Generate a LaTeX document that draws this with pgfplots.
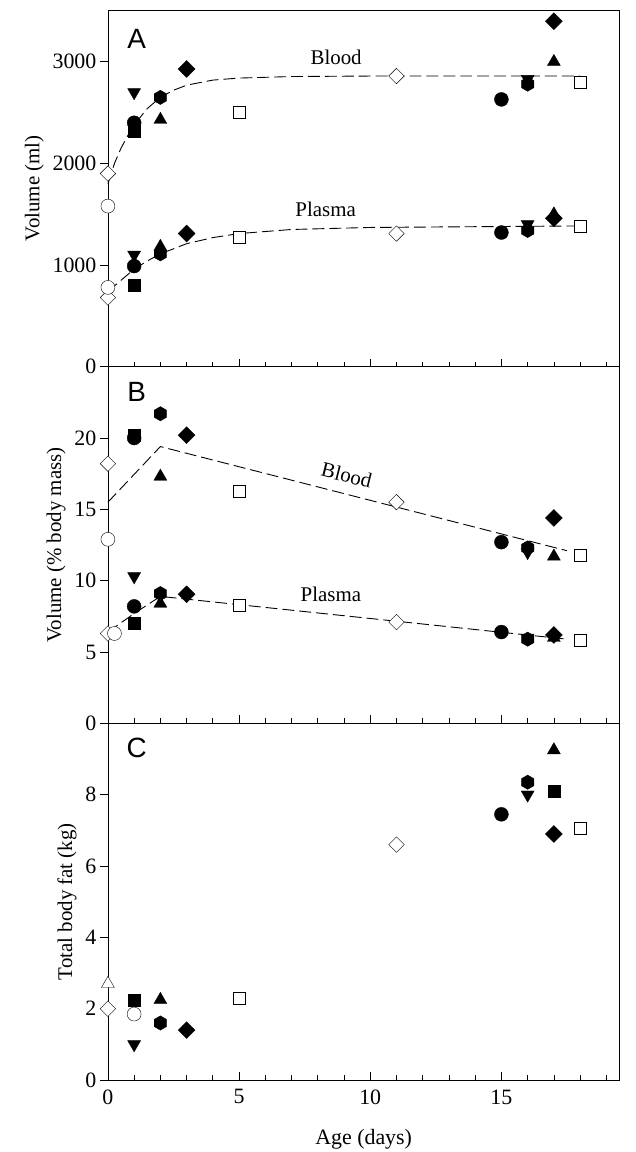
\documentclass[border=0pt]{standalone}
\usepackage{pgfplots}
\pgfplotsset{compat=1.18}
\usepackage{fontspec}
\setmainfont{Liberation Serif}
\newfontfamily\lsans{Liberation Sans}
\pgfdeclareplotmark{hex*}{%
  \pgfpathmoveto{\pgfpointpolar{90}{1.1\pgfplotmarksize}}%
  \pgfpathlineto{\pgfpointpolar{150}{1.1\pgfplotmarksize}}%
  \pgfpathlineto{\pgfpointpolar{210}{1.1\pgfplotmarksize}}%
  \pgfpathlineto{\pgfpointpolar{270}{1.1\pgfplotmarksize}}%
  \pgfpathlineto{\pgfpointpolar{330}{1.1\pgfplotmarksize}}%
  \pgfpathlineto{\pgfpointpolar{30}{1.1\pgfplotmarksize}}%
  \pgfpathclose\pgfusepathqfillstroke}
\tikzset{lab/.style={font=\fontsize{21}{23}\selectfont},
  pan/.style={font=\lsans\fontsize{28}{30}\selectfont}}
\pgfplotsset{
  base/.style={width=512bp,height=357bp,scale only axis,xmin=0,xmax=19.5,
    xtick={0,5,10,15},minor xtick={1,2,3,4,6,7,8,9,11,12,13,14,16,17,18,19},
    xtick pos=bottom,ytick pos=left,xtick align=inside,ytick align=outside,
    major tick length=8bp,minor tick length=5bp,
    tick style={black,line width=0.7pt},axis line style={line width=0.8pt},
    font=\fontsize{22}{24}\selectfont, clip=false,
    /pgf/number format/assume math mode=true,
    ylabel style={font=\fontsize{21}{23}\selectfont,yshift=2bp}},
  fc/.style={only marks,mark=*,mark size=7pt,black,fill=black},
  oc/.style={only marks,mark=*,mark size=7pt,black,fill=white},
  fs/.style={only marks,mark=square*,mark size=6pt,black,fill=black},
  os/.style={only marks,mark=square*,mark size=6pt,black,fill=white},
  ft/.style={only marks,mark=triangle*,mark size=7.5pt,black,fill=black},
  ot/.style={only marks,mark=triangle*,mark size=7.5pt,black,fill=white},
  fv/.style={only marks,mark=triangle*,mark size=7.5pt,black,fill=black,mark options={rotate=180}},
  fd/.style={only marks,mark=square*,mark size=6pt,black,fill=black,mark options={rotate=45}},
  od/.style={only marks,mark=square*,mark size=5.5pt,black,fill=white,mark options={rotate=45}},
  fh/.style={only marks,mark=hex*,mark size=6.5pt,black,fill=black},
  fit/.style={no marks,black,line width=0.9pt,dash pattern=on 12pt off 5pt},
}
\begin{document}
\begin{tikzpicture}
\useasboundingbox (-108bp,-72bp) rectangle (528bp,1081bp);
% Panel A
\begin{axis}[base,at={(0,714bp)},ymin=0,ymax=3510,ytick={0,1000,2000,3000},xticklabels={},
  ylabel={Volume (ml)},scaled y ticks=false,yticklabel style={/pgf/number format/set thousands separator={}}]
\addplot[fit] coordinates {(0,1800)(0.25,2000)(0.5,2150)(0.75,2270)(1,2380)(1.5,2540)(2,2650)(2.5,2720)(3,2770)(4,2820)(5,2840)(7,2855)(10,2860)(18,2860)};
\addplot[fit] coordinates {(0,740)(0.5,850)(1,960)(1.5,1040)(2,1110)(3,1210)(4,1270)(5,1310)(7,1350)(10,1370)(18,1385)};
\addplot[od] coordinates {(0,1900)(0,680)(11,2860)(11,1310)};
\addplot[oc] coordinates {(0,1580)(0,780)};
\addplot[fs] coordinates {(1,2320)(1,800)};
\addplot[fv] coordinates {(1,2700)(1,1100)(16,2830)(16,1400)};
\addplot[fc] coordinates {(1,2400)(1,990)(15,2630)(15,1320)};
\addplot[ft] coordinates {(2,2430)(2,1180)(17,3000)(17,1500)};
\addplot[fh] coordinates {(2,2650)(2,1110)(16,2780)(16,1340)};
\addplot[fd] coordinates {(3,2930)(3,1310)(17,3400)(17,1460)};
\addplot[os] coordinates {(5,2500)(5,1270)(18,2800)(18,1380)};
\node[lab] at (axis cs:8.7,3040) {Blood};
\node[lab] at (axis cs:8.3,1550) {Plasma};
\node[pan] at (axis cs:1.1,3230) {A};
\end{axis}
% Panel B
\begin{axis}[base,at={(0,357bp)},ymin=0,ymax=25,ytick={0,5,10,15,20},xticklabels={},
  ylabel={Volume (\% body mass)}]
\addplot[fit] coordinates {(0,15.5)(2,19.4)(17.5,12.1)};
\addplot[fit] coordinates {(0,6.4)(1,7.7)(2,8.9)(17.5,5.9)};
\addplot[od] coordinates {(0,18.2)(0,6.3)(11,15.5)(11,7.1)};
\addplot[oc] coordinates {(0,12.9)(0.25,6.3)};
\addplot[fs] coordinates {(1,20.2)(1,7.0)};
\addplot[fv] coordinates {(1,10.3)(16,12.0)(16,6.0)};
\addplot[fc] coordinates {(1,20.0)(1,8.2)(15,12.7)(15,6.4)};
\addplot[ft] coordinates {(2,17.3)(2,8.4)(17,11.7)(17,6.0)};
\addplot[fh] coordinates {(2,21.7)(2,9.1)(16,12.3)(16,5.9)};
\addplot[fd] coordinates {(3,20.2)(3,9.05)(17,14.4)(17,6.2)};
\addplot[os] coordinates {(5,16.3)(5,8.3)(18,11.8)(18,5.8)};
\node[lab,rotate=-14] at (axis cs:9.1,17.4) {Blood};
\node[lab] at (axis cs:8.5,9.05) {Plasma};
\node[pan] at (axis cs:1.1,23.2) {B};
\end{axis}
% Panel C
\begin{axis}[base,at={(0,0)},ymin=0,ymax=10,ytick={0,2,4,6,8},
  xlabel={Age (days)},ylabel={Total body fat (kg)},xlabel style={yshift=-18bp},
  xticklabel style={yshift=-6bp}]
\addplot[ot] coordinates {(0,2.7)};
\addplot[od] coordinates {(0,2.0)(11,6.6)};
\addplot[oc] coordinates {(1,1.85)};
\addplot[fs] coordinates {(1,2.25)(17,8.1)};
\addplot[fv] coordinates {(1,1.0)(16,8.0)};
\addplot[fc] coordinates {(15,7.45)};
\addplot[ft] coordinates {(2,2.25)(17,9.25)};
\addplot[fh] coordinates {(2,1.6)(16,8.35)};
\addplot[fd] coordinates {(3,1.4)(17,6.9)};
\addplot[os] coordinates {(5,2.3)(18,7.05)};
\node[pan] at (axis cs:1.1,9.3) {C};
\end{axis}
\end{tikzpicture}
\end{document}
